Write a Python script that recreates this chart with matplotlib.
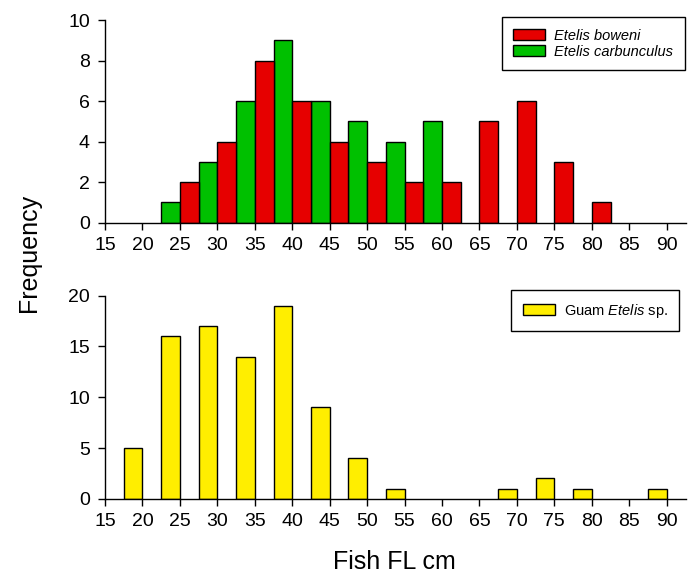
import matplotlib
matplotlib.use("Agg")
import matplotlib.pyplot as plt
import numpy as np

plt.rcParams['font.family'] = ['Liberation Sans', 'DejaVu Sans']
plt.rcParams['mathtext.fontset'] = 'custom'
plt.rcParams['mathtext.rm'] = 'Liberation Sans'
plt.rcParams['mathtext.it'] = 'Liberation Sans:italic'

# Length bins (cm) and counts for the Hawaiian species
bins_top = [25, 30, 35, 40, 45, 50, 55, 60, 65, 70, 75, 80]
boweni = [2, 4, 8, 6, 4, 3, 2, 2, 5, 6, 3, 1]
carbunculus = [1, 3, 6, 9, 6, 5, 4, 5, 0, 0, 0, 0]

# Length bins (cm) and counts for Guam samples
bins_guam = [20, 25, 30, 35, 40, 45, 50, 55, 60, 65, 70, 75, 80, 85, 90]
guam = [5, 16, 17, 14, 19, 9, 4, 1, 0, 0, 1, 2, 1, 0, 1]

xticks = list(range(15, 95, 5))

red = '#E60000'
green = '#00C000'
yellow = '#FFEE00'
w = 2.5

fig = plt.figure(figsize=(6.91, 5.74), dpi=100)
ax1 = fig.add_axes([0.152, 0.612, 0.841, 0.353])
ax2 = fig.add_axes([0.152, 0.131, 0.841, 0.354])

# Side-by-side bars: carbunculus left of each bin edge, boweni right of it
cb = [(b, c) for b, c in zip(bins_top, carbunculus) if c > 0]
b_green = ax1.bar(np.array([c[0] for c in cb]) - w, [c[1] for c in cb], width=w,
                  align='edge', color=green, edgecolor='black', linewidth=1.0)
b_red = ax1.bar(bins_top, boweni, width=w, align='edge',
                color=red, edgecolor='black', linewidth=1.0)

leg_kw = dict(loc='upper right', bbox_transform=fig.transFigure, borderaxespad=0,
              fancybox=False, edgecolor='black', framealpha=1,
              handlelength=2.2, handleheight=0.8, borderpad=0.8,
              labelspacing=0.12, handletextpad=0.6)
ax1.legend([b_red, b_green], ['Etelis boweni', 'Etelis carbunculus'],
           bbox_to_anchor=(0.991, 0.970),
           prop={'style': 'italic', 'size': 10.5}, **leg_kw)
ax1.set_ylim(0, 10)
ax1.set_yticks([0, 2, 4, 6, 8, 10])

gm = [(b, c) for b, c in zip(bins_guam, guam) if c > 0]
b_y = ax2.bar(np.array([g[0] for g in gm]) - w, [g[1] for g in gm], width=w,
              align='edge', color=yellow, edgecolor='black', linewidth=1.0)
ax2.legend([b_y], ['Guam $\\mathit{Etelis}$ sp.'],
           bbox_to_anchor=(0.983, 0.495), prop={'size': 10.5}, **leg_kw)
ax2.set_ylim(0, 20)
ax2.set_yticks([0, 5, 10, 15, 20])

for ax in (ax1, ax2):
    ax.set_xlim(15, 92.6)
    ax.set_xticks(xticks)
    for s in ('top', 'right'):
        ax.spines[s].set_visible(False)
    ax.spines['left'].set_linewidth(1.0)
    ax.spines['bottom'].set_linewidth(1.0)
    ax.tick_params(axis='both', labelsize=14, length=5, width=1.0, direction='out')
    ax.tick_params(axis='x', pad=5)
    ax.tick_params(axis='y', pad=6)

fig.text(0.042, 0.559, 'Frequency', rotation=90, va='center', ha='center', fontsize=18)
fig.text(0.571, 0.009, 'Fish FL cm', ha='center', va='baseline', fontsize=18)

fig.savefig('out.png', dpi=100)
